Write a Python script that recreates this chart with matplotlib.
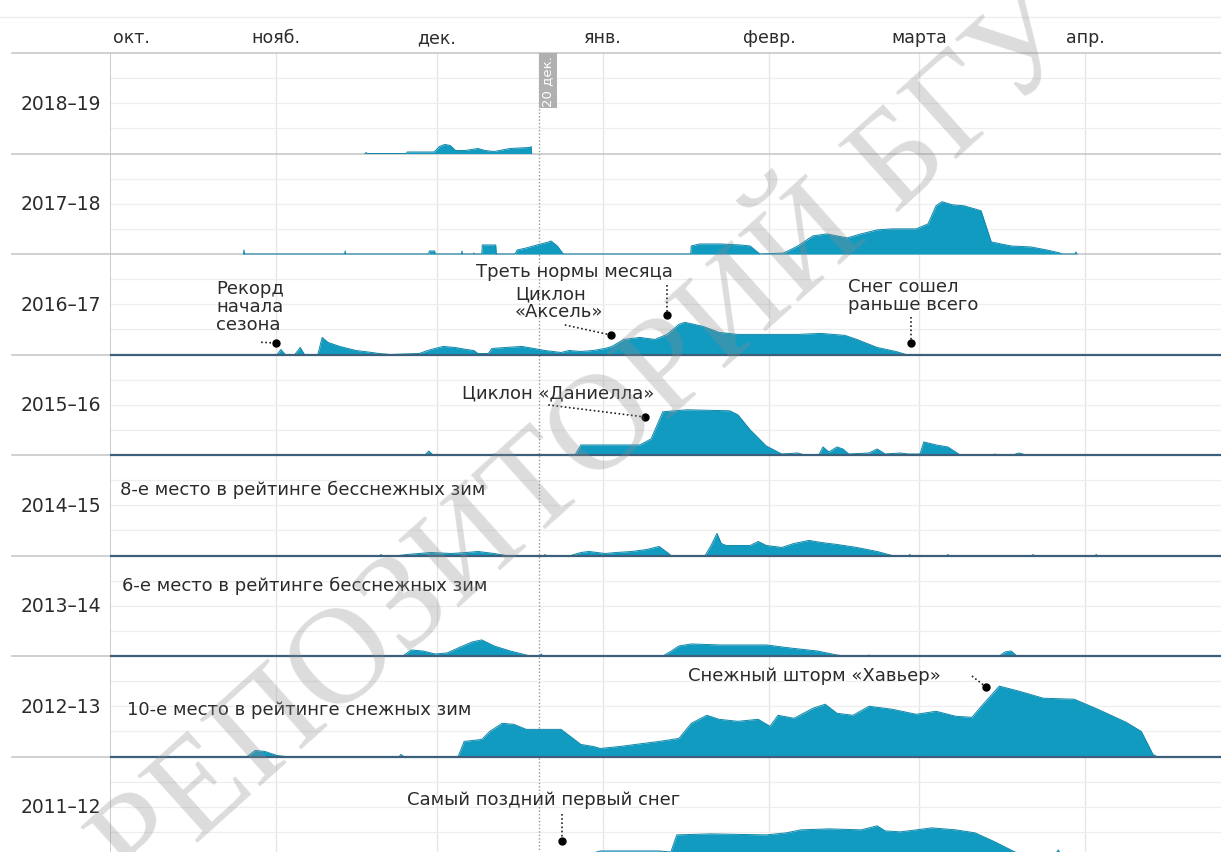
import numpy as np
import matplotlib.pyplot as plt
import matplotlib.transforms as mtrans
from matplotlib.lines import Line2D

# snow depth, cm; days counted from 1 October
seasons = ['2018–19', '2017–18', '2016–17', '2015–16', '2014–15', '2013–14', '2012–13', '2011–12']

d_1819 = [47.6, 47.8, 48.0, 55.3, 55.5, 60.5, 61.5, 62.5, 63.5, 64.5, 66.3, 68.7, 70.0, 71.7, 74.7, 78.4, 78.6, 78.7]
v_1819 = [0, 1, 0, 0, 1.5, 1.5, 7, 9, 8, 3, 3, 5, 3, 2, 5, 6, 7, 0]

d_1718 = [24.9, 25.0, 25.1, 43.8, 43.9, 44.0, 59.5, 59.6, 60.6, 60.7, 65.6, 65.7, 65.8, 67.8, 67.9, 68.0,
          69.4, 69.5, 72.0, 72.1, 75.6, 76.0, 77.7, 79.7, 81.9, 82.3, 83.5, 84.6,
          108.4, 108.5, 110.1, 113.9, 117.6, 119.5, 121.3,
          125.8, 128.4, 131.2, 133.8, 137.6, 140.2, 143.2, 146.0, 150.5, 152.7, 154.2, 155.3, 157.2,
          159.4, 162.6, 164.5, 168.2, 171.9, 174.9, 177.3, 177.7, 180.1, 180.3, 180.5]
v_1718 = [0, 4, 0, 0, 3, 0, 0, 3, 3, 0, 0, 3, 0, 0, 1, 0,
          0, 9, 9, 0, 0, 4, 6, 9, 12, 13, 8, 0,
          0, 8, 10, 10, 9, 8, 0,
          1, 8, 18, 20, 16, 20, 24, 25, 25, 30, 48, 52, 49,
          48, 43, 12, 8, 7, 4, 1, 0, 0, 2, 0]

d_1617 = [31.2, 31.9, 32.7, 34.5, 35.5, 36.3, 38.8, 39.6, 40.7, 42.9, 45.9, 48.9, 50.2, 52.3,
          57.7, 59.9, 62.2, 64.4, 66.5, 67.9, 68.7, 70.6, 71.3, 73.9, 76.9, 79.1, 81.2, 84.2, 85.7,
          87.9, 90.2, 92.4, 93.7, 95.9, 98.9, 101.7, 104.0, 106.2, 107.3, 110.7, 113.7, 117.2, 121.0,
          128.4, 132.7, 137.2, 139.4, 143.2, 146.7, 148.6]
v_1617 = [0, 5, 0, 0, 7, 0, 0, 17, 12, 8, 4, 2, 1, 0,
          1, 5, 8, 7, 5, 4, 1, 1, 6, 7, 8, 6, 4, 2, 4,
          3, 4, 6, 8, 15, 17, 15, 20, 30, 32, 28, 22, 20, 20,
          20, 21, 19, 15, 7, 3, 0]

d_1516 = [58.8, 59.5, 60.3, 71.5, 71.7, 71.9, 86.8, 87.9, 98.9, 101.0, 103.2, 105.5, 107.7, 115.7,
          117.2, 119.5, 122.5, 125.4, 128.4, 129.7, 132.3, 133.1, 134.2, 135.7, 136.8, 137.9, 141.7,
          143.2, 144.7, 147.5, 149.0, 151.2, 151.9, 154.2, 156.4, 158.7, 164.8, 165.2, 165.6,
          168.5, 169.7, 171.0]
v_1516 = [0, 4, 0, 0, 1, 0, 0, 10, 10, 16, 43, 44, 45, 44,
          40, 25, 9, 1, 2, 0, 0, 8, 3, 8, 6, 1, 2,
          6, 1, 2, 1, 1, 13, 10, 8, 0, 0, 1, 0,
          0, 2, 0]

d_1415 = [50.4, 50.6, 50.8, 54.0, 55.4, 57.7, 59.9, 63.7, 66.5, 68.7, 71.7, 73.9, 81.0, 81.2, 81.4,
          86.0, 87.9, 89.4, 92.4, 94.5, 97.4, 100.2, 102.5, 104.3, 104.7, 111.1, 112.2, 113.3, 114.1,
          115.0, 119.5, 121.0, 122.5, 125.4, 127.7, 130.5, 132.7, 135.7, 139.4, 143.2, 146.0,
          149.1, 149.3, 149.5, 156.2, 156.4, 156.6, 172.1, 172.3, 172.5, 183.9, 184.1, 184.3]
v_1415 = [0, 1, 0, 0, 1, 2, 3, 2, 3, 4, 2, 0, 0, 1, 0,
          0, 3, 4, 2, 3, 4, 6, 9, 2, 0, 0, 10, 22, 12,
          10, 10, 14, 10, 8, 12, 15, 13, 11, 8, 4, 0,
          0, 1, 0, 0, 1, 0, 0, 1, 0, 0, 1, 0]

d_1314 = [54.7, 56.2, 58.4, 60.7, 62.9, 65.0, 67.6, 69.4, 71.7, 74.7, 77.7, 78.4, 80.2, 80.5, 80.8,
          103.2, 104.5, 106.2, 108.5, 113.7, 122.5, 126.9, 132.0, 135.7, 137.2, 141.3, 141.7, 142.1,
          166.0, 167.1, 168.2, 169.3]
v_1314 = [0, 6, 5, 2, 3, 8, 14, 16, 10, 5, 1, 0, 0, 2, 0,
          0, 4, 10, 12, 11, 11, 8, 5, 1, 0, 0, 1, 0,
          0, 4, 5, 0]

d_1213 = [25.6, 27.1, 28.9, 31.2, 32.7, 54.0, 54.3, 54.8, 65.0, 66.1, 69.4, 70.9, 73.2, 75.4, 77.7,
          84.2, 87.9, 90.2, 91.5, 95.2, 102.5, 106.2, 108.5, 111.4, 113.7, 117.2, 121.0, 123.2, 124.7,
          127.7, 131.2, 133.5, 135.7, 138.7, 141.7, 146.0, 150.5, 154.2, 157.9, 160.9, 163.0, 166.0,
          169.7, 174.2, 180.0, 184.4, 189.7, 192.5, 194.7, 195.4]
v_1213 = [0, 6, 5, 1, 0, 0, 2, 0, 0, 15, 17, 25, 33, 32, 27,
          27, 12, 10, 8, 10, 15, 18, 33, 41, 37, 35, 37, 30, 41,
          38, 48, 52, 43, 41, 50, 47, 42, 45, 40, 39, 52, 70,
          65, 58, 57, 47, 34, 25, 2, 0]

d_1112 = [88.7, 89.6, 91.5, 102.5, 104.7, 105.8, 112.2, 122.5, 126.2, 129.0, 134.2, 140.2, 143.2,
          144.7, 147.5, 150.5, 153.4, 157.9, 161.5, 165.2, 168.9, 172.7, 176.2, 177.0, 177.8]
v_1112 = [0, 3, 6, 6, 5, 22, 23, 22, 24, 27, 28, 27, 31,
          26, 25, 27, 29, 27, 24, 15, 5, 0, 0, 7, 0]

series = [(d_1819, v_1819), (d_1718, v_1718), (d_1617, v_1617), (d_1516, v_1516),
          (d_1415, v_1415), (d_1314, v_1314), (d_1213, v_1213), (d_1112, v_1112)]

months = ['окт.', 'нояб.', 'дек.', 'янв.', 'февр.', 'марта', 'апр.']
month_days = [0, 31, 61, 92, 123, 151, 182]
today = 80  # 20 дек.

# annotations: text, x, y (data), dot x, y, dotted line start x, y
notes_rows = [
    ('Рекорд\nначала\nсезона', 19.8, -251.7, 31.0, -288.6, 28.2, -287.8),
    ('Треть нормы месяца', 68.3, -216.9, 104.0, -260.7, 104.0, -230.8),
    ('Циклон\n«Аксель»', 75.6, -247.8, 93.5, -280.6, 84.9, -270.6),
    ('Снег сошел\nраньше всего', 137.8, -240.8, 149.5, -288.6, 149.5, -262.7),
    ('Циклон «Даниелла»', 65.7, -337.3, 99.9, -362.2, 81.8, -350.2),
    ('Снежный шторм «Хавьер»', 107.9, -618.9, 163.5, -630.8, 160.9, -619.9),
    ('Самый поздний первый снег', 55.4, -742.3, 84.4, -784.1, 84.4, -757.2),
]
notes_plain = [
    ('8-е место в рейтинге бесснежных зим', 1.9, -433.8),
    ('6-е место в рейтинге бесснежных зим', 2.2, -529.4),
    ('10-е место в рейтинге снежных зим', 3.2, -652.7),
]

ROW = 100
fill_c = '#129bc1'
txt_c = '#2b2b2b'

plt.rcParams['font.family'] = ['DejaVu Sans']
fig = plt.figure(figsize=(12.21, 8.53), dpi=100)
ax = fig.add_axes([110/1221, 1 - 858/853, 1111/1221, 804/853])
ax.set_xlim(0, 1111/5.357)
ax.set_ylim(-len(seasons)*ROW, 0)
ax.set_axis_off()

fig.add_artist(Line2D([0, 1], [1 - 18/853]*2, transform=fig.transFigure, color='#eeeeee', lw=1))

for m in month_days[1:]:
    ax.axvline(m, color='#e6e6e6', lw=1, zorder=0)
ax.axvline(0, color='#c4c4c4', lw=1.2, zorder=1)

ax.axhline(0, xmin=-98/1111, xmax=1, color='#c8c8c8', lw=1.2, clip_on=False, zorder=1)
for i, (name, (d, v)) in enumerate(zip(seasons, series)):
    base = -(i+1)*ROW
    for g in (25, 50, 75):
        ax.axhline(base + g, color='#eeeeee', lw=0.9, zorder=0)
    ax.axhline(base, xmin=-98/1111, xmax=1, color='#c8c8c8', lw=1.2, clip_on=False, zorder=1)
    d = np.array(d); v = np.array(v)
    ax.fill_between(d, base, base + v, color=fill_c, lw=0, zorder=3)
    ax.plot(d, base + v, color='#0f86a8', lw=0.7, zorder=3)
    if i >= 2:
        ax.axhline(base, color='#3c5f7c', lw=1.6, zorder=4)
    ax.text(-1.6, base + ROW/2, name, ha='right', va='center', fontsize=13.5, color=txt_c, clip_on=False)

# 20 дек.
ax.axvline(today, color='#9a9a9a', lw=1, ls=(0, (1, 1.5)), zorder=2)
ax.text(today + 0.55, -27, '20 дек.', rotation=90, ha='left', va='center', fontsize=9.5, color='white',
        bbox=dict(facecolor='#b0b0b0', edgecolor='none', pad=1.5), zorder=5)

# month labels
tr = mtrans.blended_transform_factory(ax.transData, fig.transFigure)
for k, (m, dd) in enumerate(zip(months, month_days)):
    if k == 0:
        fig.text(0.6, 1 - 38/853, m, transform=tr, ha='left', va='center', fontsize=12.5, color=txt_c)
    else:
        fig.text(dd, 1 - 38/853, m, transform=tr, ha='center', va='center', fontsize=12.5, color=txt_c)

for t, x, y, dx, dy, lx, ly in notes_rows:
    ax.text(x, y, t, ha='left', va='center', fontsize=13, color=txt_c, linespacing=1.0, zorder=6)
    ax.plot([lx, dx], [ly, dy], color='#222222', lw=1.2, ls=(0, (1, 1.5)), zorder=6)
    ax.plot(dx, dy, 'o', color='black', ms=5, zorder=7)
for t, x, y in notes_plain:
    ax.text(x, y, t, ha='left', va='center', fontsize=13, color=txt_c, zorder=6)

# watermark of the scan
fig.text(590/1221, 1 - 445/853, 'РЕПОЗИТОРИЙ БГУ', rotation=42, ha='center', va='center',
         fontsize=99, family='Liberation Serif', color='#8c8c8c', alpha=0.3, zorder=20)

fig.savefig('out.png', dpi=100)
